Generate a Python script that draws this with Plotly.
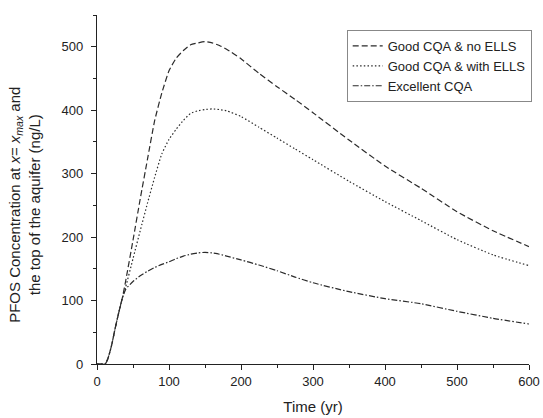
import plotly.graph_objects as go

time_yr = [0, 10, 12, 15, 20, 25, 30, 35, 40, 50, 60, 70, 80, 90, 100, 110, 120, 130, 140, 150,
           160, 170, 180, 200, 225, 250, 275, 300, 350, 400, 450, 500, 550, 600]

good_no_ells = [0, 0, 1, 8, 28, 55, 80, 103, 132, 195, 260, 322, 383, 427, 462, 482, 494, 503, 506, 508,
                506, 502, 496, 481, 458, 437, 417, 396, 353, 312, 277, 240, 210, 185]

good_with_ells = [0, 0, 1, 8, 28, 55, 80, 103, 122, 166, 210, 253, 294, 331, 354, 370, 384, 395, 399, 401,
                  402, 401, 399, 390, 373, 356, 339, 322, 288, 256, 226, 196, 172, 155]

excellent = [0, 0, 1, 8, 28, 55, 80, 103, 118, 130, 139, 146, 152, 157, 161, 166, 170, 173, 175, 176,
             175, 173, 170, 164, 156, 147, 137, 128, 114, 103, 95, 83, 72, 63]

series_names = ["Good CQA & no ELLS", "Good CQA & with ELLS", "Excellent CQA"]
x_ticks = [0, 100, 200, 300, 400, 500, 600]
y_ticks = [0, 100, 200, 300, 400, 500]

line_col = "#2b2b2b"
font_family = "Liberation Sans, Arial, sans-serif"

fig = go.Figure()
fig.add_trace(go.Scatter(x=time_yr, y=good_no_ells, mode="lines", name=series_names[0],
                         line=dict(color=line_col, width=1.2, dash="6px,3px",
                                   shape="spline", smoothing=0.5)))
fig.add_trace(go.Scatter(x=time_yr, y=good_with_ells, mode="lines", name=series_names[1],
                         line=dict(color=line_col, width=1.2, dash="1.5px,2.2px",
                                   shape="spline", smoothing=0.5)))
fig.add_trace(go.Scatter(x=time_yr, y=excellent, mode="lines", name=series_names[2],
                         line=dict(color=line_col, width=1.2, dash="6px,2px,1.5px,2px",
                                   shape="spline", smoothing=0.5)))

fig.update_layout(
    width=543, height=418,
    margin=dict(l=97, r=14, t=15, b=54, autoexpand=False),
    paper_bgcolor="white", plot_bgcolor="white",
    font=dict(family=font_family, size=13, color="#222"),
    showlegend=True,
    legend=dict(x=0.578, y=0.957, xanchor="left", yanchor="top",
                bordercolor="#888", borderwidth=1, bgcolor="white",
                font=dict(size=13, family=font_family, color="#222"),
                itemwidth=30, tracegroupgap=0),
    xaxis=dict(range=[0, 600], tickvals=x_ticks, ticks="outside", ticklen=5, tickwidth=1.2,
               tickcolor="#222", showline=True, linecolor="#222", linewidth=1.3,
               showgrid=False, zeroline=False,
               minor=dict(dtick=50, ticks="outside", ticklen=3, tickwidth=1.2, tickcolor="#222"),
               title=dict(text="Time (yr)", font=dict(size=15), standoff=13),
               tickfont=dict(size=13)),
    yaxis=dict(range=[0, 550], tickvals=y_ticks, ticks="outside", ticklen=5, tickwidth=1.2,
               tickcolor="#222", showline=True, linecolor="#222", linewidth=1.3,
               showgrid=False, zeroline=False, ticklabelstandoff=5,
               minor=dict(dtick=50, ticks="outside", ticklen=3, tickwidth=1.2, tickcolor="#222"),
               tickfont=dict(size=13)),
    annotations=[dict(
        text="PFOS Concentration at <i>x</i>= <i>x</i><sub><i>max</i></sub> and<br>the top of the aquifer (ng/L)",
        textangle=-90, xref="paper", yref="paper",
        x=(25 - 97) / 432.0, y=(364.3 - 205) / 349.3,
        xanchor="center", yanchor="middle", showarrow=False,
        font=dict(size=15, family=font_family, color="#222"))],
)

fig.write_html("out.html", config={"displayModeBar": False},
               post_script="document.body.style.margin='0';document.body.style.overflow='hidden';")
